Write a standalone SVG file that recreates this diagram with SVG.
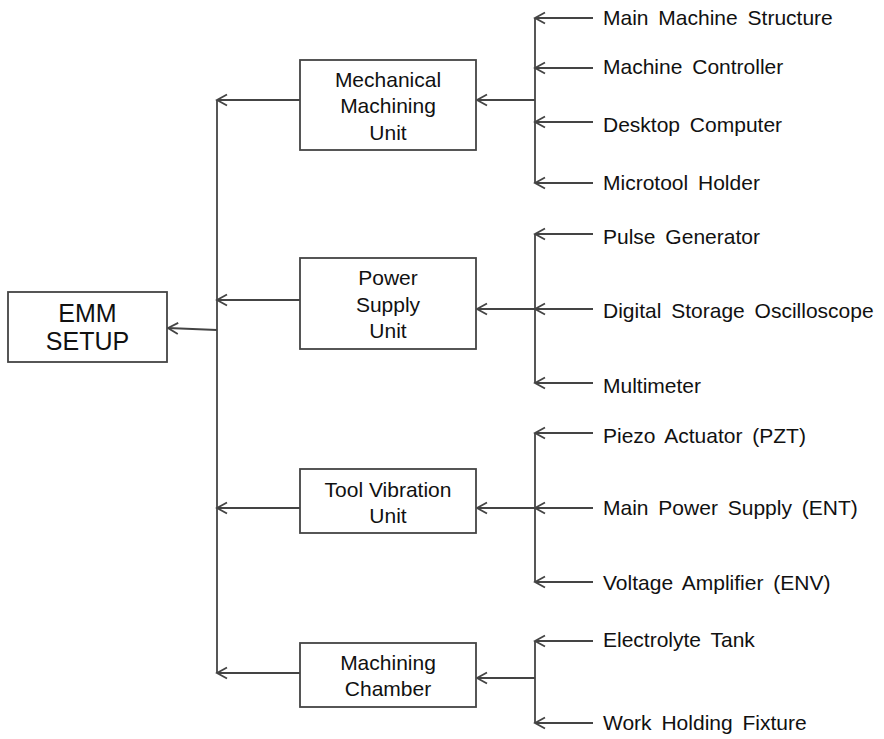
<svg xmlns="http://www.w3.org/2000/svg" width="884" height="739" viewBox="0 0 884 739">
<style>
.box{fill:#fff;stroke:#444;stroke-width:1.8}
.ln{fill:none;stroke:#444;stroke-width:1.8}
.ar{fill:none;stroke:#444;stroke-width:1.8;marker-end:url(#ah)}
.bt{font-family:"Liberation Sans",Arial,sans-serif;font-size:21px;fill:#111;text-anchor:middle}
.lt{font-family:"Liberation Sans",Arial,sans-serif;font-size:21px;fill:#111;word-spacing:4px}
.et{font-family:"Liberation Sans",Arial,sans-serif;font-size:25px;fill:#111;text-anchor:middle}
</style>
<defs>
<marker id="ah" markerUnits="userSpaceOnUse" markerWidth="14" markerHeight="14" refX="11" refY="7" orient="auto">
<path d="M1,1.5 L11,7 L1,12.5" fill="none" stroke="#444" stroke-width="1.8"/>
</marker>
</defs>
<rect width="884" height="739" fill="#fff"/>
<g id="connectors">
<line class="ln" x1="217" y1="100" x2="217" y2="673"/>
<line class="ar" x1="217" y1="330" x2="168" y2="328"/>
<line class="ar" x1="300" y1="100" x2="217" y2="100"/>
<line class="ar" x1="300" y1="300" x2="217" y2="300"/>
<line class="ar" x1="300" y1="508" x2="217" y2="508"/>
<line class="ar" x1="300" y1="673" x2="217" y2="673"/>
<line class="ln" x1="535" y1="18" x2="535" y2="183"/>
<line class="ar" x1="593" y1="18" x2="535" y2="18"/>
<line class="ar" x1="593" y1="68" x2="535" y2="68"/>
<line class="ar" x1="593" y1="122" x2="535" y2="122"/>
<line class="ar" x1="593" y1="183" x2="535" y2="183"/>
<line class="ar" x1="535" y1="100" x2="477" y2="100"/>
<line class="ln" x1="535" y1="234" x2="535" y2="383"/>
<line class="ar" x1="593" y1="234" x2="535" y2="234"/>
<line class="ar" x1="593" y1="309" x2="535" y2="309"/>
<line class="ar" x1="593" y1="383" x2="535" y2="383"/>
<line class="ar" x1="535" y1="309" x2="477" y2="309"/>
<line class="ln" x1="535" y1="433" x2="535" y2="582"/>
<line class="ar" x1="593" y1="433" x2="535" y2="433"/>
<line class="ar" x1="593" y1="508" x2="535" y2="508"/>
<line class="ar" x1="593" y1="582" x2="535" y2="582"/>
<line class="ar" x1="535" y1="508" x2="477" y2="508"/>
<line class="ln" x1="535" y1="641" x2="535" y2="723"/>
<line class="ar" x1="593" y1="641" x2="535" y2="641"/>
<line class="ar" x1="593" y1="723" x2="535" y2="723"/>
<line class="ar" x1="535" y1="678" x2="477" y2="678"/>
</g>
<g id="emm">
<rect class="box" x="8" y="292" width="159" height="70"/>
<text class="et" x="87.5" y="322">EMM</text>
<text class="et" x="87.5" y="350">SETUP</text>
</g>
<g id="mech">
<rect class="box" x="300" y="60" width="176" height="90"/>
<text class="bt" x="388" y="87">Mechanical</text>
<text class="bt" x="388" y="113">Machining</text>
<text class="bt" x="388" y="140">Unit</text>
</g>
<g id="power">
<rect class="box" x="300" y="258" width="176" height="91"/>
<text class="bt" x="388" y="285">Power</text>
<text class="bt" x="388" y="312">Supply</text>
<text class="bt" x="388" y="338">Unit</text>
</g>
<g id="tool">
<rect class="box" x="300" y="469" width="176" height="64"/>
<text class="bt" x="388" y="497">Tool Vibration</text>
<text class="bt" x="388" y="523">Unit</text>
</g>
<g id="chamber">
<rect class="box" x="300" y="643" width="176" height="64"/>
<text class="bt" x="388" y="670">Machining</text>
<text class="bt" x="388" y="696">Chamber</text>
</g>
<g id="items">
<text class="lt" x="603" y="25">Main Machine Structure</text>
<text class="lt" x="603" y="74">Machine Controller</text>
<text class="lt" x="603" y="132">Desktop Computer</text>
<text class="lt" x="603" y="190">Microtool Holder</text>
<text class="lt" x="603" y="244">Pulse Generator</text>
<text class="lt" x="603" y="318">Digital Storage Oscilloscope</text>
<text class="lt" x="603" y="393">Multimeter</text>
<text class="lt" x="603" y="443">Piezo Actuator (PZT)</text>
<text class="lt" x="603" y="515">Main Power Supply (ENT)</text>
<text class="lt" x="603" y="590">Voltage Amplifier (ENV)</text>
<text class="lt" x="603" y="647">Electrolyte Tank</text>
<text class="lt" x="603" y="730">Work Holding Fixture</text>
</g>
</svg>
